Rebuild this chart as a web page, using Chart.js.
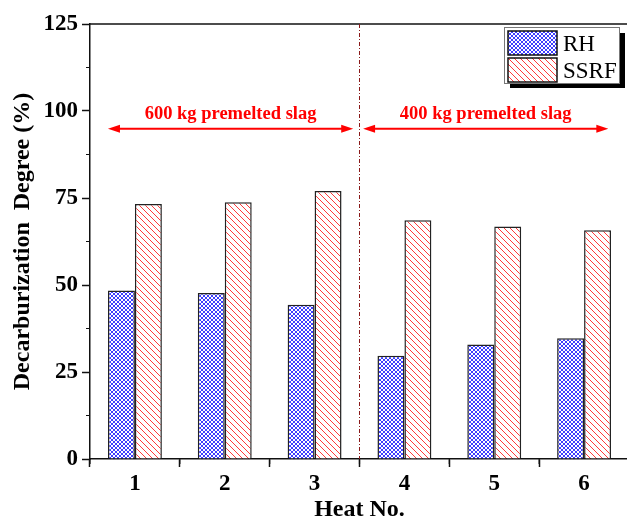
<!DOCTYPE html>
<html>
<head>
<meta charset="utf-8">
<script src="https://cdn.jsdelivr.net/npm/chart.js@4.4.0/dist/chart.umd.min.js"></script>
<style>
  html, body { margin: 0; padding: 0; background: #fff; overflow: hidden; }
  #wrap { width: 640px; height: 520px; }
</style>
</head>
<body>
<div id="wrap"><canvas id="chart"></canvas></div>
<script>
// Data
const heats = [1, 2, 3, 4, 5, 6];
const rhValues = [48.4, 47.7, 44.3, 29.7, 32.9, 34.7];
const ssrfValues = [73.3, 73.8, 77.0, 68.6, 66.8, 65.7];
const yTicks = [0, 25, 50, 75, 100, 125];

// Slag groups: labels, arrow extents (heat units), split position
const slagLabels = ["600 kg premelted slag", "400 kg premelted slag"];
const arrowFrom = [0.7, 3.54];
const arrowTo = [3.43, 6.27];
const arrowY = 94.9;
const labelY = 97.8;
const splitAt = 3.5;

const SERIF = "'Liberation Serif', 'Times New Roman', serif";
const INK = "#111";

// Hatch fills
function makePattern(kind) {
  const c = document.createElement("canvas");
  const ctx = c.getContext("2d");
  const n = kind === "cross" ? 4 : 6;
  c.width = n;
  c.height = n;
  ctx.fillStyle = "#fff";
  ctx.fillRect(0, 0, n, n);
  ctx.lineWidth = 1;
  if (kind === "cross") {
    ctx.strokeStyle = "#3d3dff";
    ctx.beginPath();
    ctx.moveTo(0, 0); ctx.lineTo(n, n);
    ctx.moveTo(0, n); ctx.lineTo(n, 0);
    ctx.stroke();
  } else {
    ctx.strokeStyle = "#ff3a3a";
    ctx.beginPath();
    ctx.moveTo(-1, -1); ctx.lineTo(n + 1, n + 1);
    ctx.moveTo(-1, n - 1); ctx.lineTo(1, n + 1);
    ctx.moveTo(n - 1, -1); ctx.lineTo(n + 1, 1);
    ctx.stroke();
  }
  return ctx.createPattern(c, "repeat");
}
const rhFill = makePattern("cross");
const ssrfFill = makePattern("diag");

// Minor ticks, top frame line, slag annotations, legend
const decorations = {
  id: "decorations",
  afterDatasetsDraw(chart) {
    const { ctx, chartArea: a, scales: { x, y } } = chart;
    ctx.save();

    // frame top
    ctx.strokeStyle = INK;
    ctx.lineWidth = 1.5;
    ctx.beginPath();
    ctx.moveTo(a.left, a.top);
    ctx.lineTo(a.right, a.top);
    ctx.stroke();

    // minor ticks
    ctx.lineWidth = 1.2;
    ctx.beginPath();
    for (let i = 0; i < yTicks.length - 1; i++) {
      const py = y.getPixelForValue((yTicks[i] + yTicks[i + 1]) / 2);
      ctx.moveTo(a.left - 4, py);
      ctx.lineTo(a.left, py);
    }
    const xm = heats.map((h) => h - 0.5).concat(heats[heats.length - 1] + 0.5);
    xm.forEach((v) => {
      const px = x.getPixelForValue(v);
      ctx.moveTo(px, a.bottom);
      ctx.lineTo(px, a.bottom + 5);
    });
    ctx.stroke();

    // split line
    const sx = x.getPixelForValue(splitAt);
    ctx.strokeStyle = "#8b1a1a";
    ctx.lineWidth = 1;
    ctx.setLineDash([4, 2, 1, 2]);
    ctx.beginPath();
    ctx.moveTo(sx, a.top);
    ctx.lineTo(sx, a.bottom);
    ctx.stroke();
    ctx.setLineDash([]);

    // arrows + labels
    ctx.strokeStyle = "#f00";
    ctx.fillStyle = "#f00";
    ctx.lineWidth = 2;
    const ay = y.getPixelForValue(arrowY);
    slagLabels.forEach((txt, i) => {
      const x0 = x.getPixelForValue(arrowFrom[i]);
      const x1 = x.getPixelForValue(arrowTo[i]);
      ctx.beginPath();
      ctx.moveTo(x0 + 8, ay);
      ctx.lineTo(x1 - 8, ay);
      ctx.stroke();
      ctx.beginPath();
      ctx.moveTo(x0, ay); ctx.lineTo(x0 + 12, ay - 4); ctx.lineTo(x0 + 12, ay + 4);
      ctx.closePath();
      ctx.moveTo(x1, ay); ctx.lineTo(x1 - 12, ay - 4); ctx.lineTo(x1 - 12, ay + 4);
      ctx.closePath();
      ctx.fill();
      ctx.font = `bold 18.5px ${SERIF}`;
      ctx.textAlign = "center";
      ctx.textBaseline = "alphabetic";
      ctx.fillText(txt, (x0 + x1) / 2, y.getPixelForValue(labelY));
    });
    ctx.restore();
  },
  afterDraw(chart) {
    const { ctx } = chart;
    const L = 504, T = 27, W = 115, H = 56;
    ctx.save();
    ctx.fillStyle = "#000";
    ctx.fillRect(L + 6, T + H, W, 5);
    ctx.fillRect(L + W, T + 6, 6, H - 1);
    ctx.fillStyle = "#fff";
    ctx.fillRect(L, T, W, H);
    ctx.strokeStyle = "#777";
    ctx.lineWidth = 1;
    ctx.strokeRect(L + 0.5, T + 0.5, W, H);
    chart.data.datasets.forEach((ds, i) => {
      const sy = T + 4 + i * 27;
      ctx.fillStyle = ds.backgroundColor;
      ctx.fillRect(L + 4, sy, 49, 24);
      ctx.strokeStyle = INK;
      ctx.lineWidth = 1.5;
      ctx.strokeRect(L + 4, sy, 49, 24);
      ctx.fillStyle = "#000";
      ctx.font = `23px ${SERIF}`;
      ctx.textAlign = "left";
      ctx.textBaseline = "alphabetic";
      ctx.fillText(ds.label, L + 59, sy + 20);
    });
    ctx.restore();
  },
};

const tickFont = { family: SERIF, weight: "bold", size: 23 };

new Chart(document.getElementById("chart"), {
  type: "bar",
  data: {
    datasets: [
      {
        label: "RH",
        data: heats.map((h, i) => ({ x: h, y: rhValues[i] })),
        backgroundColor: rhFill,
        borderColor: "#222",
        borderWidth: 1.5,
      },
      {
        label: "SSRF",
        data: heats.map((h, i) => ({ x: h, y: ssrfValues[i] })),
        backgroundColor: ssrfFill,
        borderColor: "#222",
        borderWidth: 1.5,
      },
    ],
  },
  options: {
    responsive: true,
    maintainAspectRatio: false,
    animation: false,
    categoryPercentage: 0.6,
    barPercentage: 1.0,
    layout: { padding: { top: 24, right: 11, left: 0, bottom: 0 } },
    plugins: { legend: { display: false }, tooltip: { enabled: false } },
    scales: {
      x: {
        type: "linear",
        min: 0.5,
        max: 6.5,
        offset: false,
        afterBuildTicks: (s) => { s.ticks = heats.map((v) => ({ value: v })); },
        afterFit: (s) => { s.height = 61; },
        grid: { drawOnChartArea: false, tickLength: 8, tickWidth: 1.5, tickColor: INK },
        border: { color: INK, width: 1.5 },
        ticks: { color: "#000", font: tickFont, padding: 3, maxRotation: 0, autoSkip: false },
        title: {
          display: true,
          text: "Heat No.",
          color: "#000",
          font: { family: SERIF, weight: "bold", size: 24, lineHeight: 0.7 },
          padding: { top: 0, bottom: 2 },
        },
      },
      y: {
        min: 0,
        max: 125,
        afterBuildTicks: (s) => { s.ticks = yTicks.map((v) => ({ value: v })); },
        afterFit: (s) => { s.width = 90; },
        grid: { drawOnChartArea: false, tickLength: 8, tickWidth: 1.5, tickColor: INK },
        border: { color: INK, width: 1.5 },
        ticks: { color: "#000", font: tickFont, padding: 4 },
        title: {
          display: true,
          text: "Decarburization  Degree (%)",
          color: "#000",
          font: { family: SERIF, weight: "bold", size: 24 },
          padding: { top: 8, bottom: 0 },
        },
      },
    },
  },
  plugins: [decorations],
});
</script>
</body>
</html>
